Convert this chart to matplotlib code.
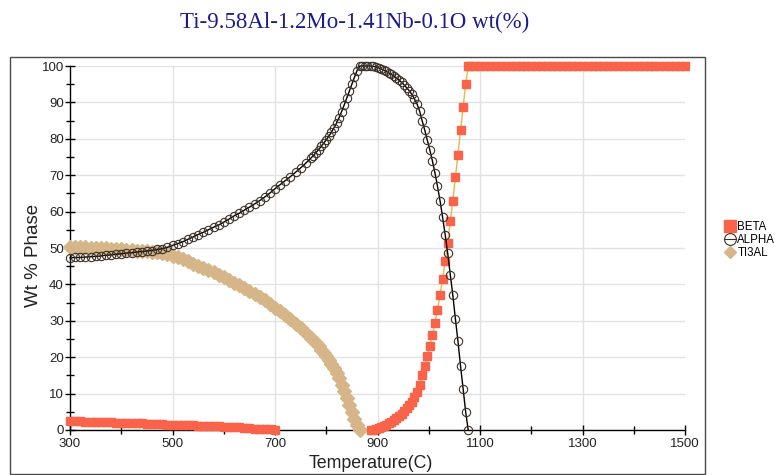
import matplotlib
matplotlib.use("Agg")
import matplotlib.pyplot as plt
from matplotlib.patches import Rectangle
from matplotlib.lines import Line2D
from matplotlib.ticker import MultipleLocator

# ---------------- data ----------------
title = "Ti-9.58Al-1.2Mo-1.41Nb-0.1O wt(%)"
x_label = "Temperature(C)"
y_label = "Wt % Phase"
series_names = ["BETA", "ALPHA", "TI3AL"]

# low-temperature grid (300..770 step 10, then 775..880 step 5)
temp_low = [300, 310, 320, 330, 340, 350, 360, 370, 380, 390,
            400, 410, 420, 430, 440, 450, 460, 470, 480, 490,
            500, 510, 520, 530, 540, 550, 560, 570, 580, 590,
            600, 610, 620, 630, 640, 650, 660, 670, 680, 690,
            700, 710, 720, 730, 740, 750, 760, 770, 775, 780,
            785, 790, 795, 800, 805, 810, 815, 820, 825, 830,
            835, 840, 845, 850, 855, 860, 865, 870, 875, 880]

ti3al_low = [50.2, 50.2, 50.2, 50.2, 50.1, 50.1, 50.0, 49.9, 49.8, 49.7,
             49.6, 49.5, 49.4, 49.3, 49.2, 49.1, 49.0, 48.8, 48.6, 48.3,
             47.8, 47.4, 46.9, 46.3, 45.7, 45.1, 44.5, 43.9, 43.3, 42.7,
             42.0, 41.3, 40.5, 39.8, 39.0, 38.3, 37.5, 36.6, 35.7, 34.7,
             33.6, 32.6, 31.5, 30.4, 29.2, 28.0, 26.7, 25.3, 24.6, 23.8,
             23.0, 22.1, 21.2, 20.3, 19.3, 18.2, 17.0, 15.7, 14.2, 12.5,
             10.7, 8.8, 6.9, 5.0, 3.1, 1.3, 0.0]

alpha_low = [47.3, 47.4, 47.4, 47.5, 47.6, 47.7, 47.8, 48.0, 48.1, 48.3,
             48.4, 48.6, 48.7, 48.9, 49.0, 49.2, 49.3, 49.6, 49.8, 50.2,
             50.7, 51.2, 51.7, 52.4, 53.0, 53.7, 54.3, 55.0, 55.7, 56.3,
             57.1, 57.9, 58.8, 59.5, 60.4, 61.2, 62.1, 63.0, 64.0, 65.1,
             66.3, 67.4, 68.5, 69.6, 70.8, 72.0, 73.3, 74.7, 75.4, 76.2,
             77.0, 77.9, 78.8, 79.7, 80.7, 81.8, 83.0, 84.3, 85.8, 87.5,
             89.3, 91.2, 93.1, 95.0, 96.9, 98.7, 100.0, 100.0, 100.0, 100.0]

# beta at low temperature (300..700 step 10)
temp_beta_low = [300, 310, 320, 330, 340, 350, 360, 370, 380, 390,
                 400, 410, 420, 430, 440, 450, 460, 470, 480, 490,
                 500, 510, 520, 530, 540, 550, 560, 570, 580, 590,
                 600, 610, 620, 630, 640, 650, 660, 670, 680, 690, 700]
beta_low = [2.5, 2.4, 2.4, 2.3, 2.3, 2.2, 2.2, 2.1, 2.1, 2.0,
            2.0, 1.9, 1.9, 1.8, 1.8, 1.7, 1.7, 1.6, 1.6, 1.5,
            1.5, 1.4, 1.4, 1.3, 1.3, 1.2, 1.2, 1.1, 1.0, 1.0,
            0.9, 0.8, 0.7, 0.7, 0.6, 0.5, 0.4, 0.4, 0.3, 0.2, 0.1]

# transus region (887..1077 step 5)
temp_high = [887, 892, 897, 902, 907, 912, 917, 922, 927, 932,
             937, 942, 947, 952, 957, 962, 967, 972, 977, 982,
             987, 992, 997, 1002, 1007, 1012, 1017, 1022, 1027, 1032,
             1037, 1042, 1047, 1052, 1057, 1062, 1067, 1072, 1077]
beta_high = [0.0, 0.1, 0.3, 0.5, 0.8, 1.1, 1.5, 1.9, 2.3, 2.8,
             3.3, 3.9, 4.5, 5.2, 6.0, 6.8, 7.8, 9.0, 10.4, 12.3,
             15.0, 17.5, 20.3, 23.0, 26.0, 29.3, 33.0, 37.0, 41.5, 46.3,
             51.5, 57.3, 63.0, 69.5, 75.6, 82.4, 88.6, 95.0, 100.0]
alpha_high = [100.0, 99.9, 99.7, 99.5, 99.2, 98.9, 98.5, 98.1, 97.7, 97.2,
              96.7, 96.1, 95.5, 94.8, 94.0, 93.2, 92.2, 91.0, 89.6, 87.7,
              85.0, 82.5, 79.7, 77.0, 74.0, 70.7, 67.0, 63.0, 58.5, 53.7,
              48.5, 42.7, 37.0, 30.5, 24.4, 17.6, 11.4, 5.0, 0.0]

# single-phase beta (1080..1500 step 10)
temp_beta_top = [1080, 1090, 1100, 1110, 1120, 1130, 1140, 1150, 1160, 1170,
                 1180, 1190, 1200, 1210, 1220, 1230, 1240, 1250, 1260, 1270,
                 1280, 1290, 1300, 1310, 1320, 1330, 1340, 1350, 1360, 1370,
                 1380, 1390, 1400, 1410, 1420, 1430, 1440, 1450, 1460, 1470,
                 1480, 1490, 1500]
beta_top = [100.0] * len(temp_beta_top)

x_ticks = [300, 500, 700, 900, 1100, 1300, 1500]
y_ticks = [0, 10, 20, 30, 40, 50, 60, 70, 80, 90, 100]

# ---------------- style ----------------
BETA_C = "#f9634a"
BETA_LINE = "#e9b64e"
ALPHA_EDGE = "#3d3127"
TI3AL_C = "#d6b688"
TEXT_C = "#222222"

plt.rcParams['font.family'] = ['Liberation Sans', 'DejaVu Sans']

W, H = 780, 475
fig = plt.figure(figsize=(W / 100, H / 100), dpi=100)
fig.patch.set_facecolor("white")

x0, x1 = 70, 685
y0, y1 = 66, 430
ax = fig.add_axes([x0 / W, 1 - y1 / H, (x1 - x0) / W, (y1 - y0) / H])

# outer frame
fig.add_artist(Rectangle((10 / W, 1 - 474 / H), (705 - 10) / W, (474 - 57) / H,
                         transform=fig.transFigure, fill=False,
                         edgecolor="#4a4a4a", linewidth=1.0))

# TI3AL
ax.plot(temp_low[:len(ti3al_low)], ti3al_low, color=TI3AL_C, lw=1.0,
        marker="D", ms=7.0, mfc=TI3AL_C, mec=TI3AL_C, zorder=3, clip_on=False)

# BETA segments
beta_kw = dict(color=BETA_LINE, lw=1.0, marker="s", ms=5.8, mfc=BETA_C,
               mec=BETA_C, zorder=4, clip_on=False)
ax.plot(temp_beta_low, beta_low, **beta_kw)
ax.plot(temp_high + temp_beta_top, beta_high + beta_top, **beta_kw)

# ALPHA
ax.plot(temp_low + temp_high, alpha_low + alpha_high, color="black", lw=1.0,
        marker="o", ms=6.0, mfc="none", mec=ALPHA_EDGE, mew=0.8, zorder=5,
        clip_on=False)

ax.set_xlim(300, 1500)
ax.set_ylim(0, 100)
ax.set_xticks(x_ticks)
ax.set_yticks(y_ticks)
ax.xaxis.set_minor_locator(MultipleLocator(100))
ax.yaxis.set_minor_locator(MultipleLocator(5))
ax.tick_params(axis="both", which="major", direction="inout", length=7,
               width=1, colors="black", labelsize=9.5, labelcolor=TEXT_C, pad=1)
ax.tick_params(axis="both", which="minor", direction="inout", length=6,
               width=1, colors="black")
ax.tick_params(axis="x", which="major", pad=2)

for s in ["top", "right"]:
    ax.spines[s].set_visible(False)
for s in ["left", "bottom"]:
    ax.spines[s].set_color("black")
    ax.spines[s].set_linewidth(1.0)

ax.grid(True, which="major", color="#e2e2e2", lw=1.0, zorder=0)
ax.set_axisbelow(True)
ax.get_xgridlines()[-1].set_visible(False)
ax.get_xgridlines()[0].set_visible(False)

ax.set_xlabel(x_label, fontsize=12.8, color=TEXT_C)
ax.xaxis.set_label_coords((371 - x0) / (x1 - x0), -(463 - y1) / (y1 - y0), )
ax.xaxis.label.set_va("center")
ax.set_ylabel(y_label, fontsize=13.5, color=TEXT_C)
ax.yaxis.set_label_coords(-(x0 - 34) / (x1 - x0), (430 - 255) / (y1 - y0))
ax.yaxis.label.set_va("center")

fig.text(355 / W, 1 - 22 / H, title, ha="center", va="center",
         fontsize=16.5, color="#1c1c8c", family=["Liberation Serif", "DejaVu Serif"])

# legend
handles = [
    Line2D([], [], ls="none", marker="s", ms=9, mfc=BETA_C, mec=BETA_C),
    Line2D([], [], color=ALPHA_EDGE, lw=0.8, marker="o", ms=8.5, mfc="none",
           mec=ALPHA_EDGE, mew=0.8),
    Line2D([], [], ls="none", marker="D", ms=6, mfc=TI3AL_C, mec=TI3AL_C),
]
fig.legend(handles, series_names, loc="center left",
           bbox_to_anchor=(724 / W, 1 - 240 / H), frameon=False,
           fontsize=8.3, handlelength=1.0, handletextpad=0.15,
           labelspacing=0.12, borderpad=0, borderaxespad=0)

fig.savefig("out.png", dpi=100, facecolor="white")
